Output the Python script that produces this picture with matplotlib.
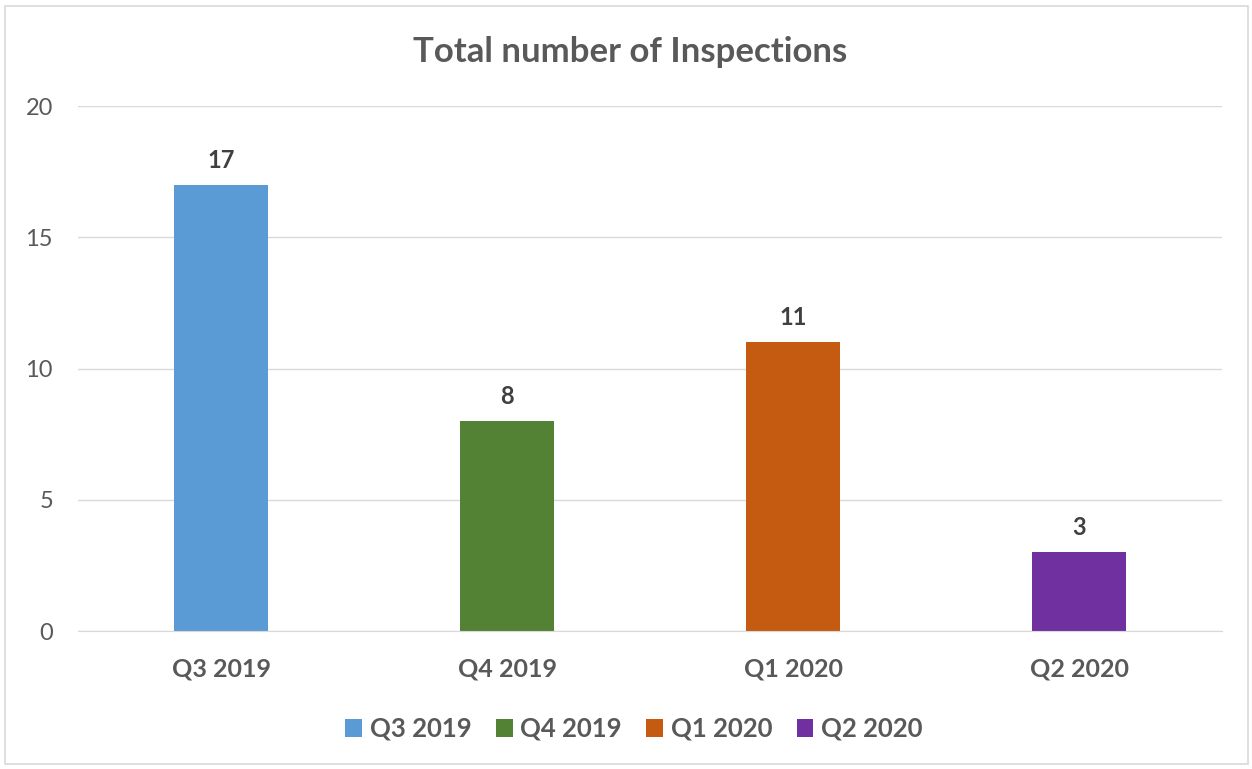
import matplotlib.pyplot as plt
from matplotlib.patches import Rectangle

plt.rcParams['font.family'] = ['Lato', 'DejaVu Sans']

# quarterly inspection counts
quarters = ['Q3 2019', 'Q4 2019', 'Q1 2020', 'Q2 2020']
inspections = [17, 8, 11, 3]
bar_colors = ['#5b9bd5', '#548235', '#c55a11', '#7030a0']

text_gray = '#595959'
grid_gray = '#d9d9d9'

fig = plt.figure(figsize=(12.52, 7.69), dpi=100)
ax = fig.add_axes([78 / 1252, 1 - 631 / 769, (1222 - 78) / 1252, (631 - 106) / 769])

x = list(range(len(quarters)))
bars = ax.bar(x, inspections, width=0.33, color=bar_colors, zorder=3, label=quarters)

for xi, v in zip(x, inspections):
    ax.text(xi, v + 0.5, str(v), ha='center', va='bottom', fontsize=17,
            fontweight='bold', color='#404040')

ax.set_xlim(-0.5, len(quarters) - 0.5)
ax.set_ylim(0, 20)
ax.set_yticks([0, 5, 10, 15, 20])
ax.set_xticks(x)
ax.set_xticklabels(quarters, fontsize=18, fontweight='bold', color=text_gray)
ax.tick_params(axis='y', labelsize=17, labelcolor=text_gray, length=0, pad=18)
ax.tick_params(axis='x', length=0, pad=19)
ax.yaxis.grid(True, color=grid_gray, linewidth=1, zorder=0)
for side in ['top', 'right', 'left']:
    ax.spines[side].set_visible(False)
ax.spines['bottom'].set_color(grid_gray)
ax.spines['bottom'].set_zorder(4)

fig.text(630 / 1252, 1 - 52 / 769, 'Total number of Inspections', ha='center', va='center',
         fontsize=25, fontweight='bold', color=text_gray)

leg = fig.legend(bars, quarters, loc='center', bbox_to_anchor=(634 / 1252, 1 - 729 / 769),
                 ncol=4, frameon=False, handlelength=0.65, handleheight=0.65,
                 handletextpad=0.3, columnspacing=0.95,
                 prop={'size': 18.5, 'weight': 'bold'})
for t in leg.get_texts():
    t.set_color(text_gray)

# light frame round the whole chart area
fig.patches.append(Rectangle((5 / 1252, 5 / 769), 1243 / 1252, 758 / 769, transform=fig.transFigure,
                             fill=False, edgecolor='#d9d9d9', linewidth=1.2))

fig.savefig('out.png', dpi=100, facecolor='white')
